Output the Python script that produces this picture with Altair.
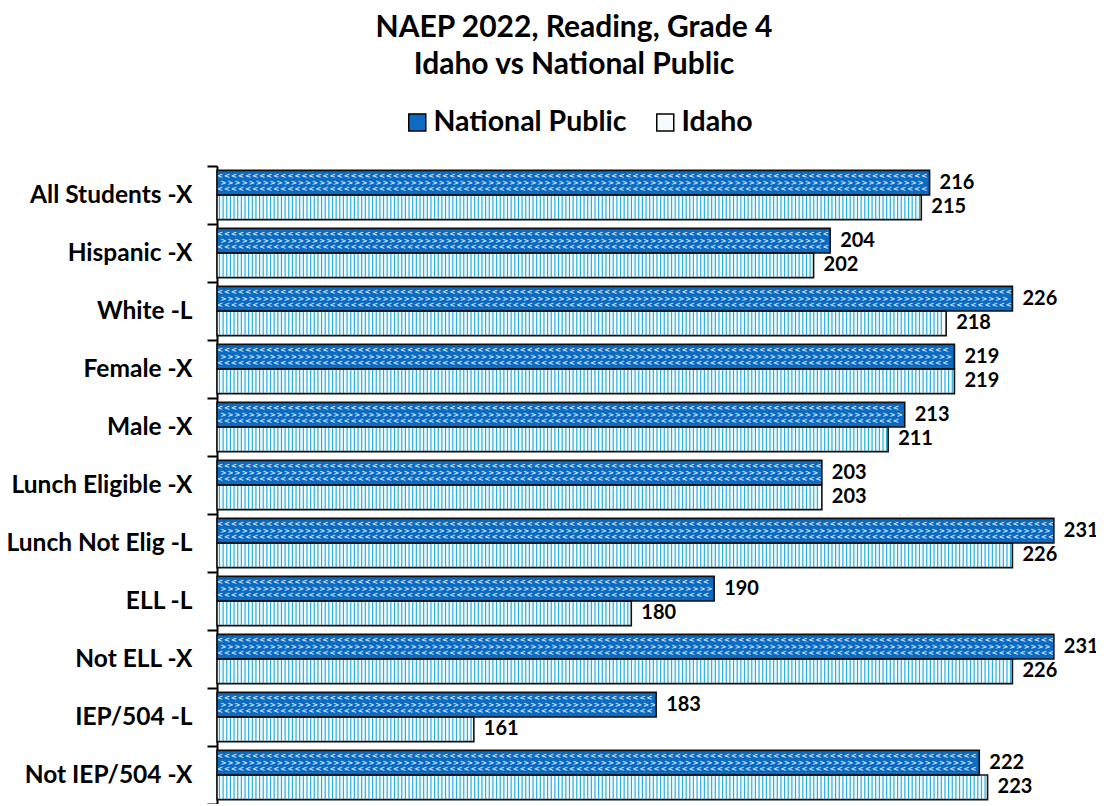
import altair as alt
import pandas as pd

categories = ["All Students -X", "Hispanic -X", "White -L", "Female -X", "Male -X",
              "Lunch Eligible -X", "Lunch Not Elig -L", "ELL -L", "Not ELL -X",
              "IEP/504 -L", "Not IEP/504 -X"]
national = [216, 204, 226, 219, 213, 203, 231, 190, 231, 183, 222]
idaho = [215, 202, 218, 219, 211, 203, 226, 180, 226, 161, 223]
series = ["National Public", "Idaho"]

rows = []
for c, n, i in zip(categories, national, idaho):
    rows.append({"category": c, "series": "National Public", "value": n})
    rows.append({"category": c, "series": "Idaho", "value": i})
df = pd.DataFrame(rows)

FONT = "Lato"
XMIN, XMAX = 130, 235
NAVY = "#0E6BC2"
CYAN = "#2AAEE3"

xscale = alt.Scale(domain=[XMIN, XMAX], zero=False, nice=False)
y_enc = alt.Y("category:N", sort=categories, title=None,
              scale=alt.Scale(paddingInner=0, paddingOuter=0),
              axis=alt.Axis(tickBand="extent", domainColor="black", domainWidth=2,
                            tickColor="black", tickWidth=2, tickSize=10,
                            labelFont=FONT, labelFontSize=24.5, labelFontWeight="bold",
                            labelColor="black", labelPadding=15, labelLimit=300))
yoff = alt.YOffset("series:N", sort=series,
                   scale=alt.Scale(paddingOuter=0.18, paddingInner=0))
y_plain = alt.Y("category:N", sort=categories)

base = alt.Chart(df)

bars = base.mark_bar(stroke=None).encode(
    x=alt.X("value:Q", scale=xscale, axis=None),
    x2=alt.datum(XMIN),
    y=y_enc,
    yOffset=yoff,
    fill=alt.Fill("series:N", sort=series,
                  scale=alt.Scale(domain=series, range=[NAVY, "#F6FCFE"]),
                  legend=alt.Legend(title=None, orient="none", legendX=186, legendY=-58,
                                    direction="horizontal", symbolType="square",
                                    symbolSize=289, symbolStrokeColor="black",
                                    symbolStrokeWidth=1.5, symbolOpacity=1,
                                    labelFont=FONT, labelFontSize=28.5, labelLimit=400,
                                    labelFontWeight="bold", labelColor="black",
                                    labelOffset=2, columnPadding=24, padding=0)),
)

stripes = base.transform_filter(
    alt.datum.series == "Idaho"
).transform_calculate(
    s=f"sequence({XMIN} + 0.3, datum.value - 0.15, 0.44)"
).transform_flatten(["s"]).mark_tick(color=CYAN, thickness=1.2, size=23, opacity=1).encode(
    x=alt.X("s:Q", scale=xscale),
    y=y_plain,
    yOffset=yoff,
)

def chev(offset, dy, sym):
    return base.transform_filter(
        alt.datum.series == "National Public"
    ).transform_calculate(
        s=f"sequence({XMIN} + {offset}, datum.value - 0.3, 0.85)"
    ).transform_flatten(["s"]).mark_text(
        text=sym, color="#E6F3FC", fontSize=7, fontWeight="bold", dy=dy,
        baseline="middle", align="center", font="DejaVu Sans"
    ).encode(
        x=alt.X("s:Q", scale=xscale),
        y=y_plain,
        yOffset=yoff,
    )

outline = base.mark_bar(fill=None, stroke="#111111", strokeWidth=1.6).encode(
    x=alt.X("value:Q", scale=xscale),
    x2=alt.datum(XMIN),
    y=y_plain,
    yOffset=yoff,
)

labels = base.mark_text(align="left", baseline="middle", dx=10, font=FONT,
                        fontSize=20, fontWeight="bold", color="black").encode(
    x=alt.X("value:Q", scale=xscale),
    y=y_plain,
    yOffset=yoff,
    text="value:Q",
)

chart = alt.layer(
    bars, stripes, chev(0.35, -6.5, "<"), chev(0.78, 0, ">"), chev(0.35, 6.5, "<"),
    outline, labels
).properties(
    width=870, height=638,
    autosize=alt.AutoSizeParams(type="none"),
    padding={"left": 209, "top": 158, "right": 9, "bottom": 0},
    title=alt.TitleParams(text=["NAEP 2022, Reading, Grade 4", "Idaho vs National Public"],
                          font=FONT, fontSize=30, fontWeight="bold", color="black",
                          anchor="middle", dx=-78, offset=28, lineHeight=37),
).configure_view(stroke=None)

chart.save("out.html", embed_options={"renderer": "svg", "actions": False})
